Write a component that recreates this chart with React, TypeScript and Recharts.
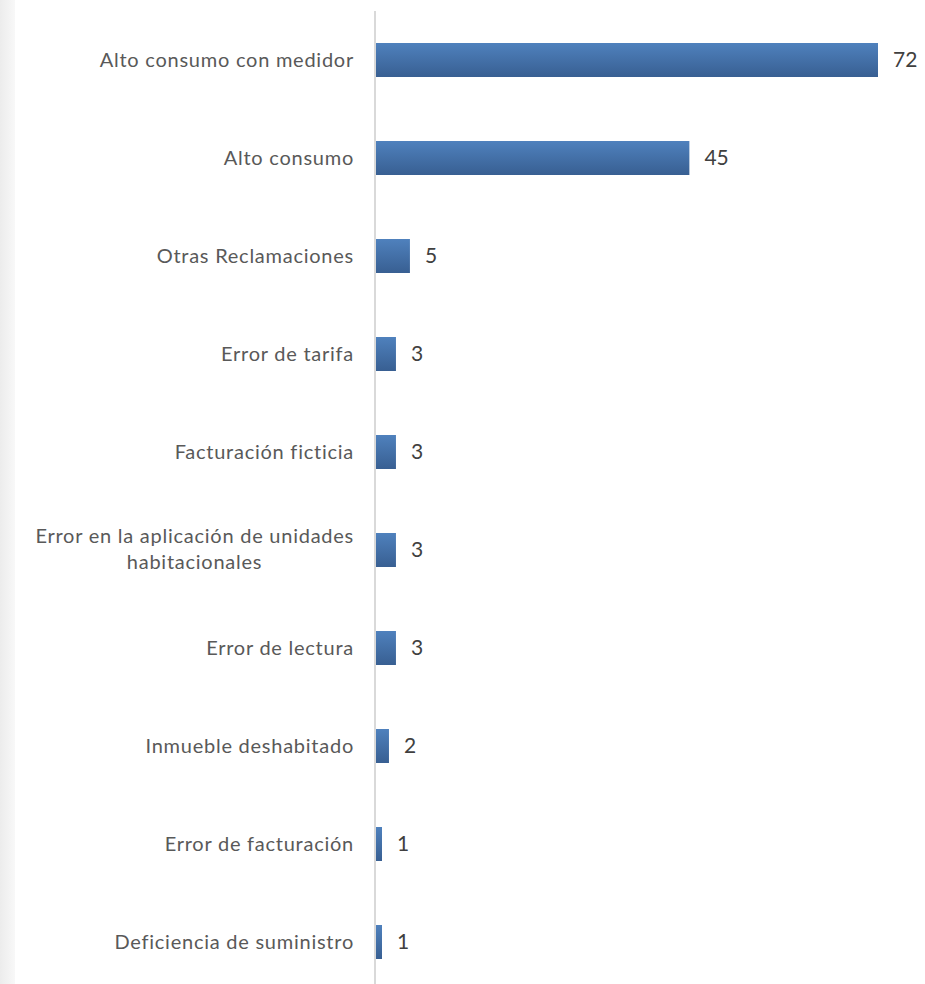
import React from 'react';
import { BarChart, Bar, XAxis, YAxis, LabelList } from 'recharts';

const categories = [
  'Alto consumo con medidor',
  'Alto consumo',
  'Otras Reclamaciones',
  'Error de tarifa',
  'Facturación ficticia',
  'Error en la aplicación de unidades|habitacionales',
  'Error de lectura',
  'Inmueble deshabitado',
  'Error de facturación',
  'Deficiencia de suministro',
];
const values = [72, 45, 5, 3, 3, 3, 3, 2, 1, 1];

const data = categories.map((c, i) => ({ name: c, value: values[i] }));

const FONT = 'Lato, "Open Sans", sans-serif';
const FONT_SIZE = 20;
const LS = 0.75;

function measure(text: string): number {
  try {
    const c = document.createElement('canvas');
    const ctx = c.getContext('2d') as any;
    ctx.font = `${FONT_SIZE}px Lato`;
    if ('letterSpacing' in ctx) ctx.letterSpacing = `${LS}px`;
    return ctx.measureText(text).width;
  } catch (e) {
    return text.length * 10;
  }
}

const Tick = (props: any) => {
  const { x, y, payload } = props;
  const lines = String(payload.value).split('|');
  const common = {
    fill: '#595959',
    fontFamily: FONT,
    fontSize: FONT_SIZE,
    letterSpacing: LS,
  } as any;
  if (lines.length === 1) {
    return (
      <text x={x} y={y + 7} textAnchor="end" {...common}>
        {lines[0]}
      </text>
    );
  }
  const w = measure(lines[0]);
  return (
    <g>
      <text x={x} y={y - 7} textAnchor="end" {...common}>
        {lines[0]}
      </text>
      <text x={x - w / 2} y={y + 19} textAnchor="middle" {...common}>
        {lines[1]}
      </text>
    </g>
  );
};

export default function App() {
  return (
    <div
      style={{
        position: 'absolute',
        left: 0,
        top: 0,
        width: 925,
        height: 984,
        overflow: 'hidden',
        background: '#ffffff',
      }}
    >
      <div
        style={{
          position: 'absolute',
          left: 0,
          top: 0,
          width: 15,
          height: 984,
          background: 'linear-gradient(to right, #ececec, #f8f8f8)',
        }}
      />
      <div style={{ position: 'absolute', left: 0, top: 0 }}>
        <BarChart
          width={925}
          height={991}
          data={data}
          layout="vertical"
          margin={{ top: 11, right: 47, bottom: 0, left: 0 }}
        >
          <defs>
            <linearGradient id="barGrad" x1="0" y1="0" x2="0" y2="1">
              <stop offset="0%" stopColor="#4f81bd" />
              <stop offset="100%" stopColor="#385f92" />
            </linearGradient>
          </defs>
          <XAxis type="number" domain={[0, 72]} hide />
          <YAxis
            type="category"
            dataKey="name"
            width={375}
            axisLine={{ stroke: '#d9d9d9', strokeWidth: 2 }}
            tickLine={false}
            tickSize={0}
            tickMargin={21}
            tick={<Tick />}
            interval={0}
          />
          <Bar dataKey="value" barSize={34} fill="url(#barGrad)" isAnimationActive={false}>
            <LabelList
              dataKey="value"
              position="right"
              offset={15}
              fill="#404040"
              fontSize={21}
              fontFamily={FONT}
            />
          </Bar>
        </BarChart>
      </div>
    </div>
  );
}
